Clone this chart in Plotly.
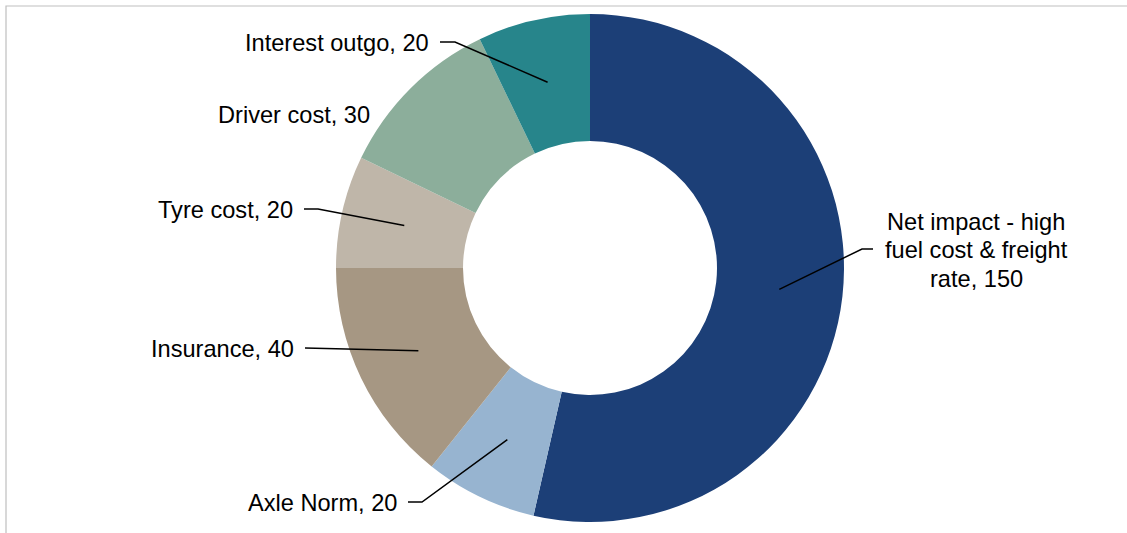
import math
import plotly.graph_objects as go

# ---- data ----
categories = ["Net impact - high fuel cost & freight rate", "Axle Norm", "Insurance",
              "Tyre cost", "Driver cost", "Interest outgo"]
values = [150, 20, 40, 20, 30, 20]
colors = ["#1C3F77", "#97B4D0", "#A69783", "#BFB6A9", "#8CAE9B", "#27858B"]
label_lines = [["Net impact - high", "fuel cost & freight", "rate, 150"], ["Axle Norm, 20"],
               ["Insurance, 40"], ["Tyre cost, 20"], ["Driver cost, 30"], ["Interest outgo, 20"]]

W, H = 1127, 533
CX, CY = 590, 268
R_OUT = 254
HOLE = 0.5
R_MID = R_OUT * (1 + HOLE) / 2
FONT_SIZE = 23.6
LINE_GAP = 28.5

# label layout: (text x, text y (middle), xanchor, elbow x or None, leader)
label_layout = [
    (976, 250, "center", 873, True),
    (399, 503, "right", 422, True),
    (296, 349, "right", None, True),
    (295, 210, "right", 318, True),
    (372, 115, "right", None, False),
    (431, 43, "right", 455, True),
]

fig = go.Figure()
fig.add_trace(go.Pie(
    labels=categories, values=values, hole=HOLE, sort=False, direction="clockwise",
    rotation=0, marker=dict(colors=colors, line=dict(width=0)),
    textinfo="none", showlegend=False, hoverinfo="label+value",
    domain=dict(x=[(CX - R_OUT) / W, (CX + R_OUT) / W],
                y=[(H - CY - R_OUT) / H, (H - CY + R_OUT) / H]),
))

total = sum(values)
cum = 0
shapes = []
annotations = []
for v, lines, (tx, ty, xa, ex, lead) in zip(values, label_lines, label_layout):
    mid = (cum + v / 2) / total * 2 * math.pi
    cum += v
    px = CX + R_MID * math.sin(mid)
    py = CY - R_MID * math.cos(mid)
    n = len(lines)
    for i, ln in enumerate(lines):
        ly = ty + (i - (n - 1) / 2) * LINE_GAP
        annotations.append(dict(x=tx, y=ly, xref="x", yref="y", text=ln, showarrow=False,
                                xanchor=xa, yanchor="middle", align="center",
                                font=dict(family="Liberation Sans, Arial", size=FONT_SIZE,
                                          color="#000000")))
    if lead:
        if ex is None:
            path = f"M {tx + 9},{ty - 1} L {px},{py}"
        elif xa == "right":
            path = f"M {tx + 9},{ty - 1} L {ex},{ty - 1} L {px},{py}"
        else:
            path = f"M {ex},{ty - 1} L {ex - 11},{ty - 1} L {px},{py}"
        shapes.append(dict(type="path", path=path, xref="x", yref="y",
                           line=dict(color="#000000", width=1.5)))

# frame
shapes.append(dict(type="rect", xref="x", yref="y", x0=6, y0=6, x1=W + 10, y1=H + 10,
                   line=dict(color="#BFBFBF", width=1.2), fillcolor="rgba(0,0,0,0)", layer="below"))

fig.update_layout(
    width=W, height=H, margin=dict(l=0, r=0, t=0, b=0),
    paper_bgcolor="white", plot_bgcolor="rgba(0,0,0,0)",
    xaxis=dict(range=[0, W], visible=False, fixedrange=True),
    yaxis=dict(range=[H, 0], visible=False, fixedrange=True),
    shapes=shapes, annotations=annotations,
)
fig.write_html("out.html")
